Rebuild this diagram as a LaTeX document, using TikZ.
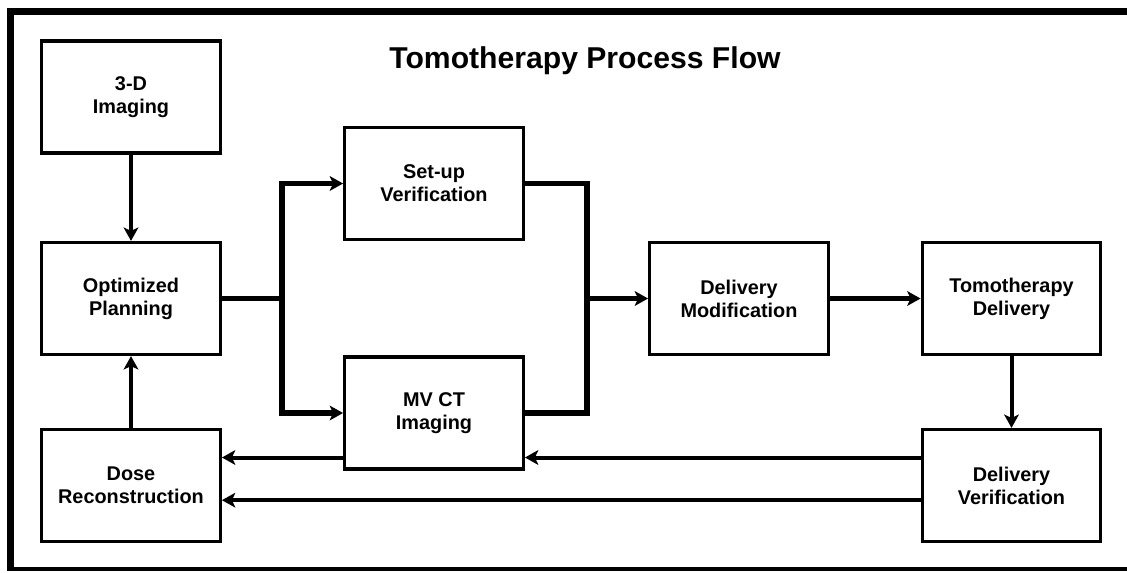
\documentclass[tikz,border=0pt]{standalone}
\usepackage{fontspec}
\setmainfont{Liberation Sans}
\usetikzlibrary{arrows.meta}

\begin{document}
\begin{tikzpicture}[x=0.75pt,y=-0.75pt,
    box/.style={draw,line width=2.4pt,minimum width=134pt,minimum height=84pt,align=center,
                font=\fontsize{14.9}{17.3}\selectfont\bfseries},
    thickarrow/.style={line width=4.2pt,-{Stealth[length=10pt,width=11pt,inset=2.5pt]}},
    thickline/.style={line width=4.2pt},
    medarrow/.style={line width=3pt,-{Stealth[length=10pt,width=11pt,inset=2.5pt]}}]
                \useasboundingbox (0,0) rectangle (1127,572);
                \draw[line width=5pt] (1127,11.5) -- (10.5,11.5) -- (10.5,571);
                \draw[line width=3pt] (8,569) -- (1127,569);
                \node (title) at (585,61) {\fontsize{22.6}{26}\selectfont\bfseries Tomotherapy Process Flow};
                \node[box] (img) at (131,97) {3-D\\Imaging};
                \node[box] (plan) at (131,298.5) {Optimized\\Planning};
                \node[box] (dose) at (131,485.5) {Dose\\Reconstruction};
                \node[box] (setup) at (434,183.5) {Set-up\\Verification};
                \node[box] (mvct) at (434,413) {MV CT\\Imaging};
                \node[box] (mod) at (739,298.5) {Delivery\\Modification};
                \node[box] (tomo) at (1011.5,298.5) {Tomotherapy\\Delivery};
                \node[box] (dver) at (1011.5,485.5) {Delivery\\Verification};
                \coordinate (split) at (282,298.5);
                \coordinate (join) at (587,298.5);
                \coordinate (upper) at ([yshift=21pt]dose.east);
                \draw[medarrow] (img) -- (plan);
                \draw[thickline] (plan.east) -- (split);
                \draw[thickarrow] (split) |- (setup.west);
                \draw[thickarrow] (split) |- (mvct.west);
                \draw[thickline] (setup.east) -| (join);
                \draw[thickline] (mvct.east) -| (join);
                \draw[thickarrow] (join) -- (mod.west);
                \draw[thickarrow] (mod) -- (tomo);
                \draw[medarrow] (tomo) -- (dver);
                \draw[medarrow] ([yshift=21pt]dver.west) -- (upper -| mvct.east);
                \draw[medarrow] (upper -| mvct.west) -- (upper);
                \draw[medarrow,line width=3.4pt] ([yshift=-11pt]dver.west) -- ([yshift=-11pt]dose.east);
                \draw[medarrow] (dose) -- (plan);
            \end{tikzpicture}
\end{document}
